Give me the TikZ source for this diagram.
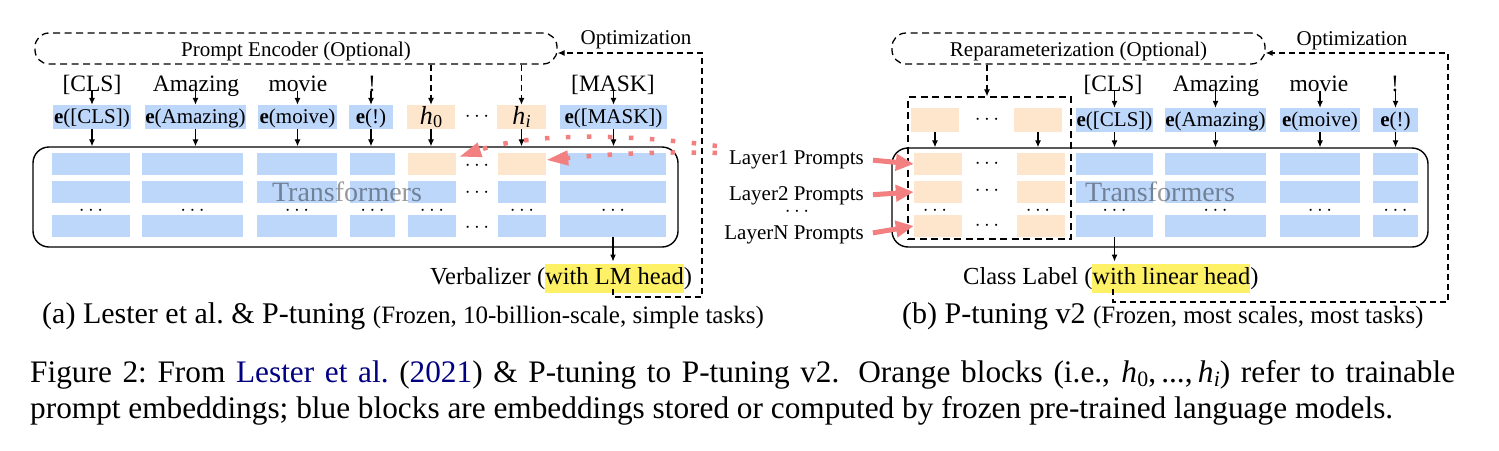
\documentclass[tikz,border=0pt]{standalone}
\usepackage{fontspec}
\usepackage{graphicx}
\setmainfont{Liberation Serif}
\usetikzlibrary{arrows.meta}
\definecolor{blueblk}{RGB}{189,215,251}
\definecolor{orgblk}{RGB}{253,230,204}
\definecolor{hlyellow}{RGB}{255,241,102}
\definecolor{redarr}{RGB}{242,128,128}
\definecolor{citeblue}{RGB}{0,0,128}
\newcommand{\setfs}[1]{\fontsize{#1}{#1}\selectfont}
\newcommand{\hsb}[1]{\textit{h}\kern0.3pt\raisebox{-0.3ex}{\scalebox{0.7}{#1}}}
\begin{document}
\begin{tikzpicture}[x=1pt,y=-1pt,
  blk/.style={fill=blueblk,inner sep=0pt,minimum height=22pt},
  oblk/.style={fill=orgblk,inner sep=0pt,minimum height=22pt},
  word/.style={inner sep=0pt,anchor=base,font=\setfs{23.5}},
  ebox/.style={fill=blueblk,inner sep=0pt,minimum height=24pt,text height=15pt,text depth=3pt,font=\setfs{21}},
  pbox/.style={fill=orgblk,inner sep=0pt,minimum height=24pt,font=\setfs{26}},
  arr/.style={line width=1.1pt,-{Latex[length=7pt,width=6pt]}},
  darr/.style={arr,dash pattern=on 6pt off 4pt},
  tbox/.style={draw,line width=1.4pt,rounded corners=16pt,inner sep=0pt},
  encbox/.style={draw,line width=1.3pt,dash pattern=on 7pt off 4.5pt,rounded corners=14pt,inner sep=0pt,font=\setfs{21},text height=17pt,text depth=2pt},
  dotsl/.style={font=\setfs{20},inner sep=0pt},
  lbl/.style={font=\setfs{21},inner sep=0pt,anchor=base},
  redline/.style={draw=redarr,line width=4.5pt,dash pattern=on 4.5pt off 16.5pt,-{Triangle[length=22pt,width=14pt]}},
  redsolid/.style={draw=redarr,line width=5pt,-{Triangle[length=18pt,width=16pt]}}
]
\useasboundingbox (0,0) rectangle (1499,450);

% ================= LEFT PANEL =================
\node[encbox,minimum width=522pt,minimum height=31pt] (enc) at (296,48.5) {Prompt Encoder (Optional)};
\node[lbl] (optL) at (636,44) {Optimization};

\node[word] (wL1) at (92,91) {[CLS]};
\node[word] (wL2) at (196,91) {Amazing};
\node[word] (wL3) at (298,91) {movie};
\node[word] (wL4) at (372,91) {!};
\node[word] (wL7) at (613,91) {[MASK]};

\node[ebox,minimum width=78pt] (eL1) at (92,117) {\textbf{e}([CLS])};
\node[ebox,minimum width=101pt] (eL2) at (195.5,117) {\textbf{e}(Amazing)};
\node[ebox,minimum width=79pt] (eL3) at (297.5,117) {\textbf{e}(moive)};
\node[ebox,minimum width=44pt] (eL4) at (371,117) {\textbf{e}(!)};
\node[pbox,minimum width=48pt] (eL5) at (431,117) {\hsb{0}};
\node[dotsl] (eLd) at (477,117) {$\cdots$};
\node[pbox,minimum width=49pt] (eL6) at (521.5,117) {\hsb{\textit{i}}};
\node[ebox,minimum width=107pt] (eL7) at (613.5,117) {\textbf{e}([MASK])};

\node[tbox,minimum width=645pt,minimum height=100pt] (tL) at (355.5,197) {};

\foreach \n/\x/\w/\s in {1/91/78/blk,2/192.5/101/blk,3/297/80/blk,4/372.5/45/blk,5/432/48/oblk,6/522/48/oblk,7/613/106/blk}{
  \node[\s,minimum width=\w pt] (L\n1) at (\x,164) {};
  \node[blk,minimum width=\w pt] (L\n2) at (\x,192) {};
  \node[blk,minimum width=\w pt] (L\n3) at (\x,226) {};
  \node[dotsl] (Ld\n) at (\x,211) {$\cdots$};
}
\node[dotsl] (Ldc1) at (477,166) {$\cdots$};
\node[dotsl] (Ldc2) at (477,193) {$\cdots$};
\node[dotsl] (Ldc3) at (477,228) {$\cdots$};
\node[font=\setfs{28},text opacity=0.4,inner sep=0pt,anchor=base] (trL) at (347,201) {Transformers};

\foreach \n in {1,2,3,4,7}{
  \draw[arr] (eL\n.north |- wL\n.base) -- (eL\n.north);
}
\foreach \n in {1,2,3,4,5,6,7}{
  \draw[arr] (eL\n.south) -- (eL\n.south |- tL.north);
}
\draw[darr] (enc.south -| eL5.north) -- (eL5.north);
\draw[darr] (enc.south -| eL6.north) -- (eL6.north);

\node[inner sep=0pt,anchor=base west,font=\fontsize{24.5}{29}\selectfont] (verb) at (430,284) {Verbalizer (\setlength{\fboxsep}{0pt}\colorbox{hlyellow}{\strut with LM head})};
\draw[arr,shorten >=2pt] (L73.south) -- (L73.south |- verb.north);
\coordinate (vs) at (613,289);
\draw[darr] (vs) -- (613,297) -- (702,297) -- (702,53) -- ([yshift=-4.5pt]enc.east);

\node[inner sep=0pt,anchor=base west] (capa) at (42,323) {\setfs{30}(a) Lester et al.\ \& P-tuning {\setfs{25}(Frozen, 10-billion-scale, simple tasks)}};

% ================= RIGHT PANEL =================
\node[encbox,minimum width=373pt,minimum height=31pt] (rep) at (1078.5,48.5) {Reparameterization (Optional)};
\node[lbl] (optR) at (1352,45) {Optimization};

\node[word] (wR1) at (1113,91) {[CLS]};
\node[word] (wR2) at (1216,91) {Amazing};
\node[word] (wR3) at (1319,91) {movie};
\node[word] (wR4) at (1395,91) {!};

\node[ebox,minimum width=77pt] (eR1) at (1114.5,120) {\textbf{e}([CLS])};
\node[ebox,minimum width=101pt] (eR2) at (1215.5,120) {\textbf{e}(Amazing)};
\node[ebox,minimum width=80pt] (eR3) at (1320,120) {\textbf{e}(moive)};
\node[ebox,minimum width=45pt] (eR4) at (1395.5,120) {\textbf{e}(!)};

\node[oblk,minimum width=48pt,minimum height=24pt] (PT1) at (935,120) {};
\node[dotsl] (PTd) at (987,120) {$\cdots$};
\node[oblk,minimum width=48pt,minimum height=24pt] (PT2) at (1038,120) {};

\node[tbox,minimum width=536pt,minimum height=99pt] (tR) at (1160,197.5) {};
\node[draw,line width=1.3pt,dash pattern=on 7pt off 4.5pt,minimum width=163pt,minimum height=142pt,inner sep=0pt] (prg) at (989.5,168) {};

\foreach \n/\x in {1/938,2/1041}{
  \node[oblk,minimum width=48pt] (P\n1) at (\x,164) {};
  \node[oblk,minimum width=48pt] (P\n2) at (\x,192) {};
  \node[oblk,minimum width=48pt] (P\n3) at (\x,226) {};
}
\node[dotsl] (Pd1) at (935,211) {$\cdots$};
\node[dotsl] (Pd2) at (1038,211) {$\cdots$};
\node[dotsl] (Pdc1) at (987,164) {$\cdots$};
\node[dotsl] (Pdc2) at (987,191) {$\cdots$};
\node[dotsl] (Pdc3) at (987,226) {$\cdots$};

\foreach \n/\x/\w in {1/1114.5/77,2/1215.5/101,3/1320/80,4/1395.5/45}{
  \node[blk,minimum width=\w pt] (R\n1) at (\x,164) {};
  \node[blk,minimum width=\w pt] (R\n2) at (\x,192) {};
  \node[blk,minimum width=\w pt] (R\n3) at (\x,226) {};
  \node[dotsl] (Rd\n) at (\x,211) {$\cdots$};
}
\node[font=\setfs{28},text opacity=0.4,inner sep=0pt,anchor=base] (trR) at (1160,201) {Transformers};

\foreach \n in {1,2,3,4}{
  \draw[arr] (eR\n.north |- wR\n.base) -- (eR\n.north);
  \draw[arr] (eR\n.south) -- (eR\n.south |- tR.north);
}
\draw[arr] (PT1.south) -- (PT1.south |- tR.north);
\draw[arr] (PT2.south) -- (PT2.south |- tR.north);
\draw[darr] (rep.south -| PTd) -- (prg.north -| PTd);

\node[inner sep=0pt,anchor=base west,font=\fontsize{24.5}{29}\selectfont] (cls) at (963,284) {Class Label (\setlength{\fboxsep}{0pt}\colorbox{hlyellow}{\strut with linear head})};
\draw[arr,shorten >=2pt] (R13.south) -- (R13.south |- cls.north);
\coordinate (cs) at (1113,289);
\draw[darr] (cs) -- (1113,302) -- (1448,302) -- (1448,53) -- ([yshift=-4.5pt]rep.east);

\node[lbl,anchor=base east] (lay1) at (864,164) {Layer1 Prompts};
\node[lbl,anchor=base east] (lay2) at (864,200) {Layer2 Prompts};
\node[dotsl] (layd) at (797,212) {$\cdots$};
\node[lbl,anchor=base east] (layN) at (864,239) {LayerN Prompts};

\draw[redsolid,shorten <=9pt] (lay1.east) -- (P11.west);
\draw[redsolid,shorten <=9pt] (lay2.east) -- (P12.west);
\draw[redsolid,shorten <=9pt] (layN.east) -- (P13.west);

\node[inner sep=0pt,anchor=base west] (capb) at (902,323) {\setfs{30}(b) P-tuning v2 {\setfs{25}(Frozen, most scales, most tasks)}};

% red dotted connectors
\coordinate (rd1) at (717,146);
\coordinate (rd2) at (717,153);
\draw[redline] (rd1) .. controls (620,133) and (530,133) .. ([xshift=3pt,yshift=-4pt]L51.north east);
\draw[redline] (rd2) .. controls (650,151) and (600,155) .. ([yshift=4pt]L61.east);

% ================= CAPTION =================
\node[inner sep=0pt,anchor=base west] (cap1) at (30,382) {\setfs{31.3}\hbox to 1425pt{Figure 2:\ From {\color{citeblue}Lester et al.}\ ({\color{citeblue}2021}) \& P-tuning to P-tuning v2. Orange blocks (i.e., \hsb{0},\,...,\,\hsb{\textit{i}}) refer to trainable}};
\node[inner sep=0pt,anchor=base west] (cap2) at (30,418) {\setfs{31.3}prompt embeddings; blue blocks are embeddings stored or computed by frozen pre-trained language models.};
\end{tikzpicture}
\end{document}
